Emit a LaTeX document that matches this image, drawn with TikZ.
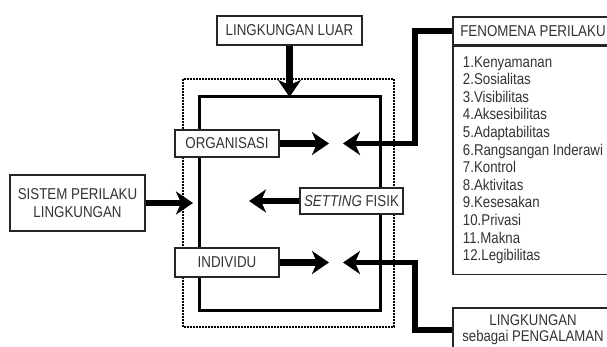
\documentclass[tikz,border=0pt]{standalone}
\usepackage{fontspec}
\setmainfont{Liberation Sans}[FakeStretch=0.85]
\usetikzlibrary{arrows.meta}

\begin{document}
\begin{tikzpicture}[x=1pt,y=-1pt,
	box/.style={draw=black!85,line width=1.2pt,fill=white,text=black!80,inner sep=0pt,
		font=\fontsize{15.7}{18}\selectfont},
	fat/.style={line width=6.5pt,-{Stealth[length=17pt,width=23pt,inset=5pt]}},
	link/.style={line width=5.5pt,-{Stealth[length=17pt,width=23pt,inset=5pt]}}]
	
	\useasboundingbox (0,0) rectangle (607,347);
	\clip (0,0) rectangle (607,347);
	
	% Frames of the system
	\draw[line width=1.3pt,dash pattern=on 1.6pt off 1.4pt] (183,79) rectangle (394,327);
	\coordinate (in-nw) at (199,97);
	\coordinate (in-se) at (380,310);
	\draw[line width=3pt] (in-nw) rectangle (in-se);
	
	% Boxes
	\node[box,minimum width=145,minimum height=29] (luar) at (289.5,30.5) {LINGKUNGAN LUAR};
	\node[box,minimum width=104,minimum height=27] (org) at (227,143.5) {ORGANISASI};
	\node[box,minimum width=104,minimum height=29] (ind) at (227,262.5) {INDIVIDU};
	\node[box,minimum width=103,minimum height=26] (setting) at (351.5,201) {\textit{SETTING} FISIK};
	\node[box,minimum width=135,minimum height=56,align=center] (sistem) at (77.5,203)
		{SISTEM PERILAKU\\LINGKUNGAN};
	
	% Fenomena perilaku
	\node[box,minimum width=160,minimum height=28] (fenhead) at (533,31) {FENOMENA PERILAKU};
	\node[box,anchor=north,minimum width=160,minimum height=228,align=left,
		font=\fontsize{15.6}{17.6}\selectfont] (fenlist) at (fenhead.south)
		{1.Kenyamanan\\2.Sosialitas\\3.Visibilitas\\4.Aksesibilitas\\5.Adaptabilitas\\
		6.Rangsangan Inderawi\\7.Kontrol\\8.Aktivitas\\9.Kesesakan\\10.Privasi\\11.Makna\\
		12.Legibilitas};
	\node[box,minimum width=160,minimum height=44,align=center,
		font=\fontsize{15.5}{16}\selectfont] (peng) at (533,330)
		{LINGKUNGAN\\sebagai PENGALAMAN};
	
	% Arrow tips
	\coordinate (orgtip) at (329,143.5);
	\coordinate (fentip) at (343,143.5);
	\coordinate (indtip) at (329,262.5);
	\coordinate (pengtip) at (343,262.5);
	\coordinate (settip) at (249,201);
	\coordinate (sistip) at (193,203);
	\coordinate (bend) at (415,0);
	
	% Arrows
	\draw[fat] (luar.south) -- (luar.south |- in-nw);
	\draw[fat] (org.east) -- (orgtip);
	\draw[fat] (ind.east) -- (indtip);
	\draw[fat] (setting.west) -- (settip);
	\draw[fat] (sistem.east) -- (sistip);
	\draw[link] (fenhead.west) -| (bend |- fentip) -- (fentip);
	\draw[link] (peng.west) -| (bend |- pengtip) -- (pengtip);
	
\end{tikzpicture}
\end{document}
